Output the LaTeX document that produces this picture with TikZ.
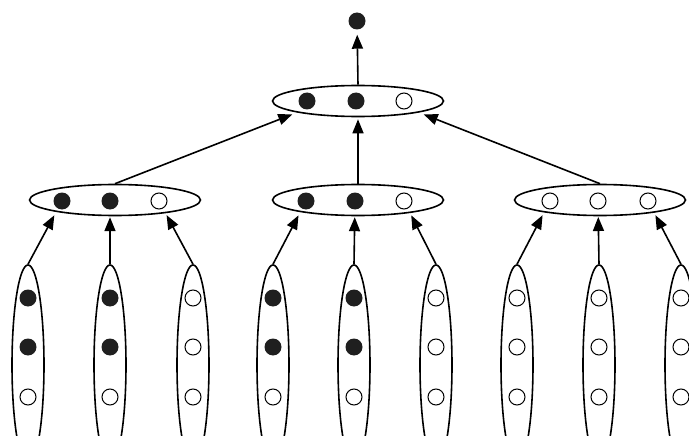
\documentclass[tikz,border=0pt]{standalone}
\usetikzlibrary{arrows.meta,shapes.geometric}
\begin{document}
\begin{tikzpicture}[x=1pt,y=-1pt,
  hell/.style={draw, ellipse, line width=1.6pt, minimum width=171pt, minimum height=31pt, inner sep=0pt},
  vell/.style={draw, ellipse, line width=1.6pt, minimum width=32pt, minimum height=200pt, inner sep=0pt},
  fdot/.style={circle, fill=black!88, minimum size=17pt, inner sep=0pt},
  odot/.style={circle, draw, line width=1pt, minimum size=16pt, inner sep=0pt},
  arr/.style={line width=1.6pt, -{Triangle[length=14pt,width=11pt]}, shorten >=2pt},
  uparr/.style={arr, shorten >=7.5pt}]
\useasboundingbox (0,0) rectangle (689,436);
\clip (0,0) rectangle (689,436);

% top result dot
\node[fdot] (R) at (357,21) {};

% top ellipse
\node[hell] (T) at (358,101) {};
\node[fdot] (t1) at (307,101) {};
\node[fdot] (t2) at (356,101) {};
\node[odot] (t3) at (404,101) {};

% middle ellipses
\node[hell] (m1) at (115,200) {};
\node[fdot] (a11) at (62,201) {};
\node[fdot] (a12) at (110,201) {};
\node[odot] (a13) at (159,201) {};

\node[hell] (m2) at (358,200) {};
\node[fdot] (a21) at (306,201) {};
\node[fdot] (a22) at (355,201) {};
\node[odot] (a23) at (404,201) {};

\node[hell] (m3) at (600,200) {};
\node[odot] (a31) at (550,201) {};
\node[odot] (a32) at (598,201) {};
\node[odot] (a33) at (648,201) {};

% vertical ellipses, group 1
\node[vell] (v11) at (28,365) {};
\node[vell] (v12) at (110,365) {};
\node[vell] (v13) at (193,365) {};
\node[fdot] (b111) at (28,298) {};
\node[fdot] (b112) at (28,347) {};
\node[odot] (b113) at (28,397) {};
\node[fdot] (b121) at (110,298) {};
\node[fdot] (b122) at (110,347) {};
\node[odot] (b123) at (110,397) {};
\node[odot] (b131) at (193,298) {};
\node[odot] (b132) at (193,347) {};
\node[odot] (b133) at (193,397) {};

% group 2
\node[vell] (v21) at (273,365) {};
\node[vell] (v22) at (354,365) {};
\node[vell] (v23) at (436,365) {};
\node[fdot] (b211) at (273,298) {};
\node[fdot] (b212) at (273,347) {};
\node[odot] (b213) at (273,397) {};
\node[fdot] (b221) at (354,298) {};
\node[fdot] (b222) at (354,347) {};
\node[odot] (b223) at (354,397) {};
\node[odot] (b231) at (436,298) {};
\node[odot] (b232) at (436,347) {};
\node[odot] (b233) at (436,397) {};

% group 3
\node[vell] (v31) at (517,365) {};
\node[vell] (v32) at (599,365) {};
\node[vell] (v33) at (681,365) {};
\node[odot] (b311) at (517,298) {};
\node[odot] (b312) at (517,347) {};
\node[odot] (b313) at (517,397) {};
\node[odot] (b321) at (599,298) {};
\node[odot] (b322) at (599,347) {};
\node[odot] (b323) at (599,397) {};
\node[odot] (b331) at (681,298) {};
\node[odot] (b332) at (681,347) {};
\node[odot] (b333) at (681,397) {};

% arrows bottom -> middle
\draw[uparr] (v11.north) -- (a11);
\draw[uparr] (v12.north) -- (a12);
\draw[uparr] (v13.north) -- (a13);
\draw[uparr] (v21.north) -- (a21);
\draw[uparr] (v22.north) -- (a22);
\draw[uparr] (v23.north) -- (a23);
\draw[uparr] (v31.north) -- (a31);
\draw[uparr] (v32.north) -- (a32);
\draw[uparr] (v33.north) -- (a33);

% arrows middle -> top
\draw[arr, shorten >=5pt] (m1.north) -- (T.south west);
\draw[arr] (m2.north) -- (T.south);
\draw[arr, shorten >=5pt] (m3.north) -- (T.south east);

% arrow top -> result
\draw[arr, shorten >=5pt] (T.north) -- (R);
\end{tikzpicture}
\end{document}
